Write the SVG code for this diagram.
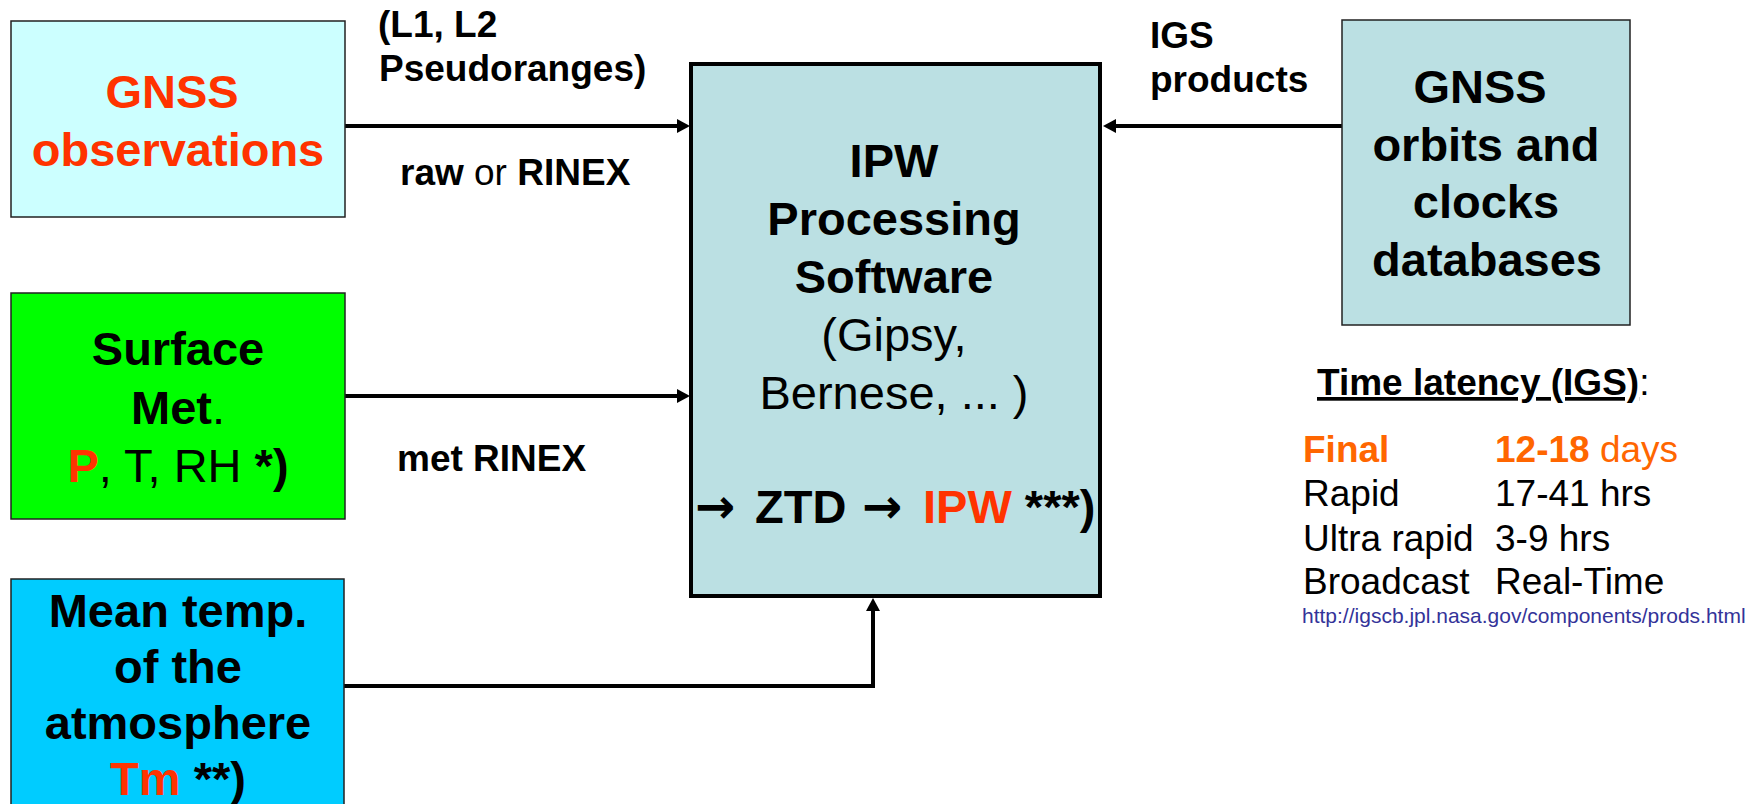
<svg xmlns="http://www.w3.org/2000/svg" width="1760" height="804" viewBox="0 0 1760 804">
<defs>
<marker id="ah" markerWidth="14" markerHeight="14" refX="8" refY="7" orient="auto" markerUnits="userSpaceOnUse">
<path d="M0,0 L13,7 L0,14 z" fill="#000"/>
</marker>
<style>
text{font-family:"Liberation Sans",Arial,sans-serif;fill:#000}
.big{font-size:47px;font-weight:bold;text-anchor:middle}
.reg{font-weight:normal}
.lbl{font-size:37px;font-weight:bold}
.red{fill:#FF3300}
.org{fill:#FF6600}
.box{stroke:#222;stroke-width:1.5}
.conn{stroke:#000;stroke-width:4;fill:none}
.tab{font-size:37px}
.arw{font-family:"DejaVu Sans",sans-serif;font-weight:bold;font-size:48px}
</style>
</defs>
<rect width="1760" height="804" fill="#fff"/>

<g id="connectors">
<path class="conn" d="M345,126 L685,126" marker-end="url(#ah)"/>
<path class="conn" d="M345,396 L685,396" marker-end="url(#ah)"/>
<path class="conn" d="M344,686 L873,686 L873,603" marker-end="url(#ah)"/>
<path class="conn" d="M1342,126 L1108,126" marker-end="url(#ah)"/>
</g>

<g id="gnss-obs">
<rect class="box" x="11" y="21" width="334" height="196" fill="#CCFFFF"/>
<text class="big red" x="172" y="108">GNSS</text>
<text class="big red" x="178" y="166">observations</text>
</g>

<g id="surface-met">
<rect class="box" x="11" y="293" width="334" height="226" fill="#00FF00"/>
<text class="big" x="178" y="365">Surface</text>
<text class="big" x="178" y="424">Met<tspan class="reg">.</tspan></text>
<text class="big" x="178" y="482"><tspan class="red">P</tspan><tspan class="reg">, T, RH </tspan>*)</text>
</g>

<g id="mean-temp">
<rect class="box" x="11" y="579" width="333" height="240" fill="#00CCFF"/>
<text class="big" x="178" y="627">Mean temp.</text>
<text class="big" x="178" y="683">of the</text>
<text class="big" x="178" y="739">atmosphere</text>
<text class="big" x="178" y="795"><tspan class="red">Tm</tspan> **)</text>
</g>

<g id="ipw">
<rect x="691" y="64" width="409" height="532" fill="#BBE0E3" stroke="#000" stroke-width="4"/>
<text class="big" x="894" y="177">IPW</text>
<text class="big" x="894" y="235">Processing</text>
<text class="big" x="894" y="293">Software</text>
<text class="big reg" x="894" y="351">(Gipsy,</text>
<text class="big reg" x="894" y="409">Bernese, ... )</text>
<text style="font-size:47px;font-weight:bold" y="523"><tspan x="695" class="arw">→</tspan><tspan x="755">ZTD</tspan><tspan x="862" class="arw">→</tspan><tspan x="923" class="red">IPW</tspan> ***)</text>
</g>

<g id="gnss-orbits">
<rect class="box" x="1342" y="20" width="288" height="305" fill="#BBE0E3"/>
<text class="big" x="1480" y="103">GNSS</text>
<text class="big" x="1486" y="161">orbits and</text>
<text class="big" x="1486" y="218">clocks</text>
<text class="big" x="1487" y="276">databases</text>
</g>

<g id="labels">
<text class="lbl" x="378" y="37">(L1, L2</text>
<text class="lbl" x="379" y="81">Pseudoranges)</text>
<text class="lbl" x="400" y="185">raw<tspan class="reg"> or </tspan>RINEX</text>
<text class="lbl" x="397" y="471">met RINEX</text>
<text class="lbl" x="1150" y="48">IGS</text>
<text class="lbl" x="1150" y="92">products</text>
</g>

<g id="latency">
<text class="tab" x="1317" y="395"><tspan font-weight="bold" text-decoration="underline">Time latency (IGS)</tspan>:</text>
<text class="tab org" x="1303" y="462" font-weight="bold">Final</text>
<text class="tab org" x="1495" y="462"><tspan font-weight="bold">12-18</tspan> days</text>
<text class="tab" x="1303" y="506">Rapid</text>
<text class="tab" x="1495" y="506">17-41 hrs</text>
<text class="tab" x="1303" y="551">Ultra rapid</text>
<text class="tab" x="1495" y="551">3-9 hrs</text>
<text class="tab" x="1303" y="594">Broadcast</text>
<text class="tab" x="1495" y="594">Real-Time</text>
<text x="1302" y="623" style="font-size:21px;fill:#333399">http://igscb.jpl.nasa.gov/components/prods.html</text>
</g>
</svg>
